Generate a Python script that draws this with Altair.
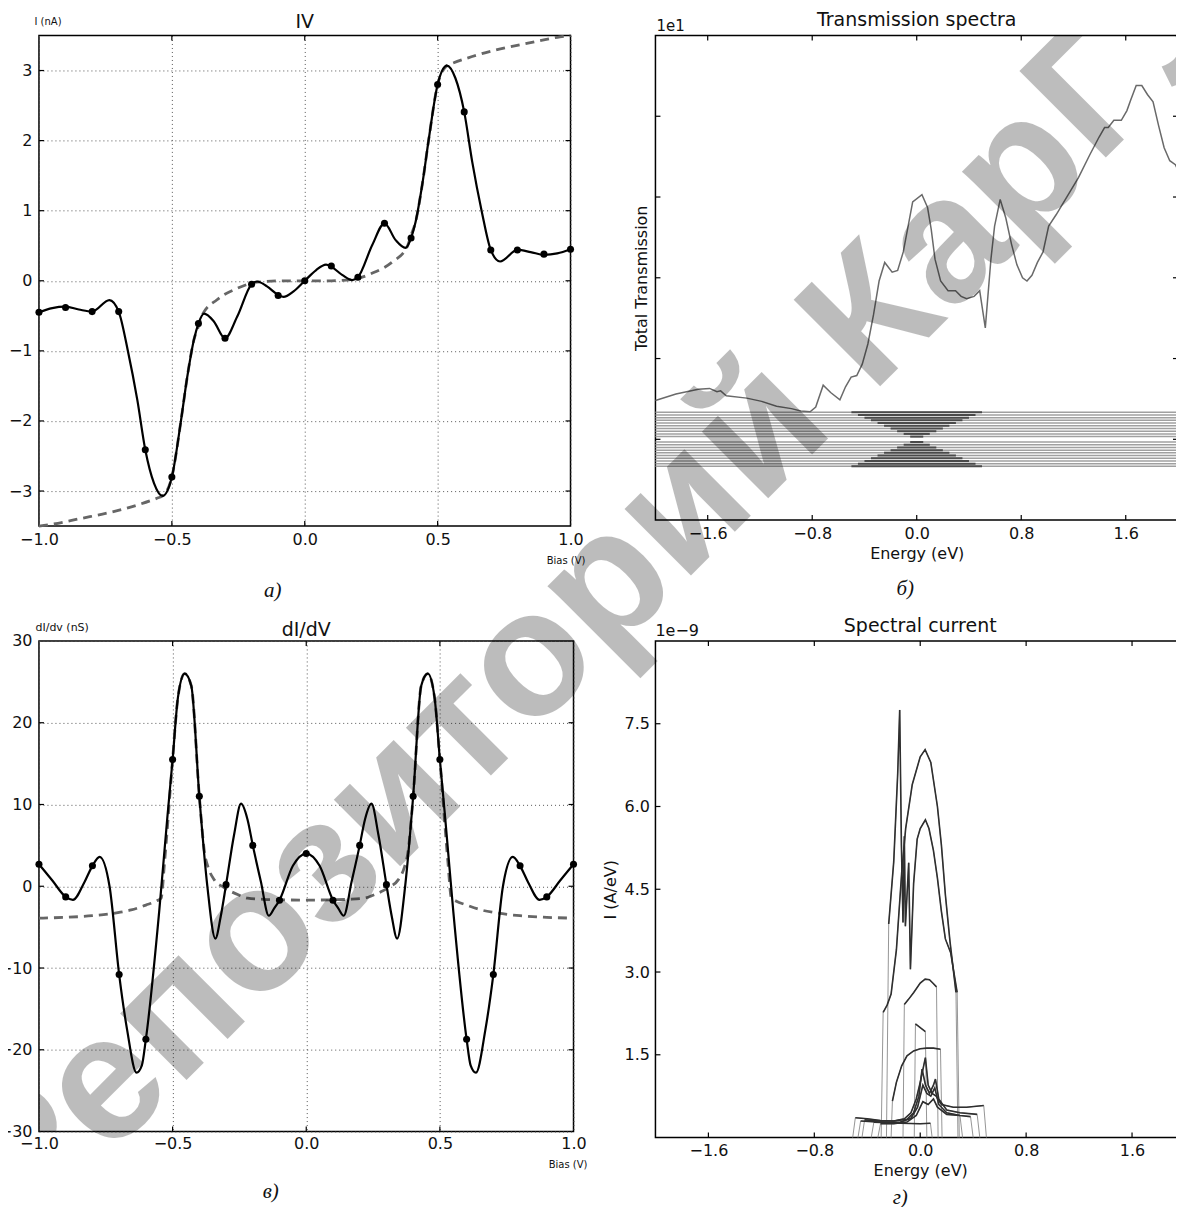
import altair as alt
import pandas as pd

FONT = "DejaVu Sans"
SERIF = "Liberation Serif"
WM_FONT = "Liberation Sans"

# ---------------- (а) IV ----------------
iv_dot_bias = [-1.0, -0.9, -0.8, -0.7, -0.6, -0.5, -0.4, -0.3, -0.2, -0.1, 0.0,
               0.1, 0.2, 0.3, 0.4, 0.5, 0.6, 0.7, 0.8, 0.9, 1.0]
iv_dot_current = [-0.45, -0.38, -0.44, -0.44, -2.41, -2.80, -0.61, -0.82, -0.05, -0.21, 0.0,
                  0.21, 0.05, 0.82, 0.61, 2.80, 2.41, 0.44, 0.44, 0.38, 0.45]
iv_curve_bias = [-1.0, -0.95, -0.9, -0.85, -0.8, -0.735, -0.7, -0.666, -0.63, -0.6, -0.567, -0.535,
                 -0.5, -0.467, -0.442, -0.417, -0.4, -0.379, -0.342, -0.3, -0.254, -0.2, -0.179,
                 -0.142, -0.1, -0.08, -0.042, 0.0,
                 0.042, 0.08, 0.1, 0.142, 0.179, 0.2, 0.254, 0.3, 0.342, 0.379, 0.4, 0.417, 0.442,
                 0.467, 0.5, 0.535, 0.567, 0.6, 0.63, 0.666, 0.7, 0.735, 0.8, 0.85, 0.9, 0.95, 1.0]
iv_curve_current = [-0.45, -0.39, -0.37, -0.41, -0.44, -0.275, -0.44, -0.99, -1.70, -2.41, -2.89, -3.07,
                    -2.80, -2.03, -1.37, -0.84, -0.61, -0.47, -0.58, -0.82, -0.51, -0.05, -0.01,
                    -0.08, -0.20, -0.23, -0.15, 0.0,
                    0.15, 0.23, 0.20, 0.08, 0.01, 0.05, 0.51, 0.82, 0.58, 0.47, 0.61, 0.84, 1.37,
                    2.03, 2.80, 3.07, 2.89, 2.41, 1.70, 0.99, 0.44, 0.275, 0.44, 0.41, 0.37, 0.39, 0.45]
iv_model_bias = [-1.0, -0.96, -0.84, -0.716, -0.63, -0.554, -0.535, -0.5, -0.467, -0.442, -0.417, -0.4,
                 -0.386, -0.33, -0.255, -0.18, -0.08, 0.0, 0.08, 0.18, 0.255, 0.33, 0.386, 0.4, 0.417,
                 0.442, 0.467, 0.5, 0.535, 0.554, 0.63, 0.716, 0.84, 0.96, 1.0]
iv_model_current = [-3.50, -3.48, -3.39, -3.29, -3.20, -3.10, -3.07, -2.80, -2.03, -1.37, -0.84, -0.65,
                    -0.49, -0.27, -0.11, -0.02, 0.0, 0.0, 0.0, 0.02, 0.11, 0.27, 0.49, 0.65, 0.84,
                    1.37, 2.03, 2.80, 3.07, 3.10, 3.20, 3.29, 3.39, 3.48, 3.50]

# ---------------- (б) Transmission spectra ----------------
tr_energy = [-2.0, -1.843, -1.672, -1.586, -1.529, -1.501, -1.458, -1.301, -1.187, -1.073, -0.959, -0.887,
             -0.816, -0.773, -0.716, -0.659, -0.588, -0.545, -0.502, -0.459, -0.417, -0.374, -0.331,
             -0.288, -0.245, -0.188, -0.146, -0.103, -0.060, -0.031, 0.040, 0.083, 0.111, 0.140, 0.183,
             0.240, 0.297, 0.340, 0.382, 0.439, 0.482, 0.525, 0.568, 0.596, 0.639, 0.682, 0.725, 0.767,
             0.810, 0.844, 0.882, 0.924, 0.967, 1.010, 1.067, 1.153, 1.238, 1.324, 1.395, 1.438, 1.466,
             1.509, 1.566, 1.609, 1.638, 1.680, 1.723, 1.766, 1.809, 1.852, 1.894, 1.937, 1.980, 2.0]
tr_value = [1.48, 1.56, 1.62, 1.63, 1.59, 1.60, 1.54, 1.51, 1.47, 1.41, 1.38, 1.35,
            1.34, 1.40, 1.67, 1.58, 1.49, 1.65, 1.77, 1.79, 1.93, 2.18, 2.54,
            2.96, 3.19, 3.07, 3.09, 3.32, 3.69, 3.94, 4.03, 3.87, 3.60, 3.23, 2.96,
            2.84, 2.84, 2.77, 2.74, 2.77, 2.84, 2.38, 3.23, 3.64, 3.97, 3.74, 3.42, 3.16,
            3.00, 2.96, 3.03, 3.19, 3.32, 3.64, 3.78, 4.01, 4.24, 4.52, 4.74, 4.86, 4.86,
            4.95, 4.95, 5.07, 5.20, 5.38, 5.38, 5.27, 5.18, 4.88, 4.61, 4.45, 4.40, 4.33]
band_level = [1.335, 1.3015, 1.268, 1.2345, 1.201, 1.1675, 1.134, 1.1005, 1.067, 1.0335, 1.0,
              0.9665, 0.933, 0.8995, 0.866, 0.8325, 0.799, 0.7655, 0.732, 0.6985, 0.665]
band_window = [0.5, 0.45, 0.4, 0.35, 0.3, 0.25, 0.2, 0.15, 0.1, 0.05, 0.0,
               0.05, 0.1, 0.15, 0.2, 0.25, 0.3, 0.35, 0.4, 0.45, 0.5]

# ---------------- (в) dI/dV ----------------
didv_dot_bias = [-1.0, -0.9, -0.8, -0.7, -0.6, -0.5, -0.4, -0.3, -0.2, -0.1, 0.0,
                 0.1, 0.2, 0.3, 0.4, 0.5, 0.6, 0.7, 0.8, 0.9, 1.0]
didv_dot_value = [2.7, -1.3, 2.5, -10.8, -18.7, 15.5, 11.0, 0.2, 5.0, -1.7, 4.0,
                  -1.7, 5.0, 0.2, 11.0, 15.5, -18.7, -10.8, 2.5, -1.3, 2.7]
didv_curve_bias = [-1.0, -0.95, -0.9, -0.873, -0.83, -0.8, -0.773, -0.736, -0.7, -0.67, -0.635, -0.615,
                   -0.6, -0.55, -0.52, -0.5, -0.48, -0.455, -0.43, -0.4, -0.37, -0.34, -0.32, -0.3,
                   -0.27, -0.244, -0.22, -0.2, -0.17, -0.14, -0.12, -0.1, -0.05, 0.0,
                   0.05, 0.1, 0.12, 0.14, 0.17, 0.2, 0.22, 0.244, 0.27, 0.3, 0.32, 0.34, 0.37, 0.4,
                   0.43, 0.455, 0.48, 0.5, 0.52, 0.55, 0.6, 0.615, 0.635, 0.67, 0.7, 0.736, 0.773,
                   0.8, 0.83, 0.873, 0.9, 0.95, 1.0]
didv_curve_value = [2.7, 0.7, -1.3, -1.66, 0.5, 2.5, 3.6, 0.0, -10.8, -17.6, -22.8, -21.9,
                    -18.7, -3.0, 8.3, 15.5, 23.1, 26.0, 24.5, 11.0, 0.0, -6.4, -3.7, 0.2,
                    6.3, 10.1, 8.2, 5.0, 0.6, -3.6, -2.7, -1.7, 2.5, 4.0,
                    2.5, -1.7, -2.7, -3.6, 0.6, 5.0, 8.2, 10.1, 6.3, 0.2, -3.7, -6.4, 0.0, 11.0,
                    24.5, 26.0, 23.1, 15.5, 8.3, -3.0, -18.7, -21.9, -22.8, -17.6, -10.8, 0.0, 3.6,
                    2.5, 0.5, -1.66, -1.3, 0.7, 2.7]
didv_model_bias = [-1.0, -0.9, -0.8, -0.7, -0.655, -0.6, -0.56, -0.543, -0.53, -0.5, -0.48, -0.455,
                   -0.43, -0.4, -0.38, -0.368, -0.344, -0.31, -0.281, -0.25, -0.219, -0.16, -0.1, 0.0,
                   0.1, 0.16, 0.219, 0.25, 0.281, 0.31, 0.344, 0.368, 0.38, 0.4, 0.43, 0.455, 0.48,
                   0.5, 0.53, 0.543, 0.56, 0.6, 0.655, 0.7, 0.8, 0.9, 1.0]
didv_model_value = [-3.9, -3.8, -3.6, -3.2, -2.9, -2.3, -1.8, -1.45, 3.0, 15.5, 23.1, 26.0,
                    24.5, 11.0, 4.0, 2.4, 0.78, -0.1, -0.65, -1.1, -1.45, -1.6, -1.65, -1.7,
                    -1.65, -1.6, -1.45, -1.1, -0.65, -0.1, 0.78, 2.4, 4.0, 11.0, 24.5, 26.0, 23.1,
                    15.5, 3.0, -1.45, -1.8, -2.3, -2.9, -3.2, -3.6, -3.8, -3.9]

# ---------------- (г) Spectral current (units of 1e-9 A/eV) ----------------
sc1_energy = [-0.238, -0.2, -0.17, -0.155, -0.142, -0.13, -0.12, -0.112, -0.087, -0.074, -0.05, -0.023,
              0.0, 0.039, 0.066, 0.1, 0.13, 0.16, 0.19, 0.23, 0.279]
sc1_current = [3.87, 5.0, 6.6, 7.75, 5.3, 3.9, 5.46, 3.83, 4.98, 3.05, 4.6, 5.41,
               5.6, 5.76, 5.6, 5.2, 4.7, 4.1, 3.6, 3.35, 2.63]
sc2_energy = [-0.28, -0.25, -0.22, -0.18, -0.14, -0.11, -0.06, 0.0, 0.037, 0.08, 0.13, 0.16, 0.19,
              0.225, 0.27]
sc2_current = [2.27, 2.4, 2.6, 3.4, 4.8, 5.6, 6.4, 6.9, 7.03, 6.8, 6.0, 5.3, 4.4, 3.55, 2.63]
sc3_energy = [-0.12, -0.09, -0.049, 0.0, 0.037, 0.07, 0.095, 0.123]
sc3_current = [2.41, 2.5, 2.63, 2.8, 2.87, 2.86, 2.8, 2.73]
sc4_energy = [-0.036, 0.039]
sc4_current = [2.06, 1.92]
sc5_energy = [-0.21, -0.18, -0.14, -0.1, -0.05, 0.0, 0.05, 0.1, 0.153]
sc5_current = [0.66, 1.0, 1.3, 1.48, 1.57, 1.61, 1.62, 1.62, 1.6]
sc6_energy = [-0.49, -0.4, -0.3, -0.2, -0.12, -0.07, -0.03, 0.0, 0.039, 0.06, 0.09, 0.12, 0.16, 0.25,
              0.35, 0.48]
sc6_current = [0.36, 0.34, 0.31, 0.3, 0.34, 0.45, 0.7, 1.0, 1.45, 0.95, 0.8, 0.75, 0.6, 0.55, 0.55, 0.58]
sc7_energy = [-0.42, -0.3, -0.2, -0.1, -0.05, -0.01, 0.014, 0.04, 0.07, 0.1, 0.115, 0.14, 0.2, 0.3, 0.43]
sc7_current = [0.32, 0.3, 0.3, 0.33, 0.45, 0.75, 1.24, 0.95, 0.8, 0.95, 1.06, 0.7, 0.5, 0.45, 0.42]
sc8_energy = [-0.35, -0.25, -0.15, -0.07, -0.02, 0.02, 0.05, 0.08, 0.11, 0.14, 0.2, 0.3, 0.38]
sc8_current = [0.28, 0.27, 0.28, 0.35, 0.55, 0.95, 0.8, 0.75, 0.9, 0.6, 0.45, 0.4, 0.38]
sc9_energy = [-0.3, -0.2, -0.1, -0.03, 0.02, 0.06, 0.1, 0.13, 0.2, 0.3]
sc9_current = [0.25, 0.25, 0.28, 0.4, 0.65, 0.6, 0.7, 0.55, 0.42, 0.4]
sc10_energy = [-0.45, -0.3, -0.15, 0.0, 0.077]
sc10_current = [0.3, 0.28, 0.26, 0.25, 0.26]
sc_base_left = [-0.255, -0.295, -0.13, -0.045, -0.22, -0.51, -0.44, -0.37, -0.32, -0.47]
sc_base_right = [0.295, 0.285, 0.135, 0.05, 0.165, 0.50, 0.45, 0.40, 0.32, 0.09]

# ---------------- watermark text pieces (offsets in em along the baseline) ----------------
wm_pieces = ["Р", "епозиторий Кар", "ГУ"]
wm_piece_offset_em = [0.0, 0.667, 8.513]
wm_piece_clipped = [True, False, True]

# ---------------- layout (flow grid, flush bounds) ----------------
W_A, H_A = 532, 491
W_B, H_B = 523, 485
W_C, H_C = 535, 491
W_D, H_D = 530, 497
COL_GAP, ROW_GAP = 82, 115
ORIGIN_A = (38, 35)
ORIGIN_B = (38 + W_A + COL_GAP, 35)
ORIGIN_C = (38, 35 + H_A + ROW_GAP)
ORIGIN_D = (38 + W_C + COL_GAP, 35 + H_B + ROW_GAP)
WM_START = (23, 1237)
WM_SIZE = 178
WM_DIR = (0.7071, -0.7071)
TICK_LEN = 5


def axis(**kw):
    base = dict(labelFont=FONT, labelFontSize=16, labelColor="#111", tickSize=0, domain=False,
                labelFlush=False, labelOverlap=False, titleFont=FONT, titleFontWeight="normal",
                titleColor="#111", grid=False)
    base.update(kw)
    return alt.Axis(**base)


GRID = dict(grid=True, gridColor="#555", gridDash=[1, 3], gridWidth=1)


def inner_ticks(sx, sy, ax, ay, xvals, yvals, W, H):
    xt = pd.DataFrame({"v": xvals})
    yt = pd.DataFrame({"v": yvals})
    out = []
    for y0, y1 in ((H, H - TICK_LEN), (0, TICK_LEN)):
        out.append(alt.Chart(xt).mark_rule(color="black", strokeWidth=1.2).encode(
            x=alt.X("v:Q", scale=sx, axis=ax), y=alt.value(y0), y2=alt.value(y1)))
    for x0, x1 in ((0, TICK_LEN), (W, W - TICK_LEN)):
        out.append(alt.Chart(yt).mark_rule(color="black", strokeWidth=1.2).encode(
            y=alt.Y("v:Q", scale=sy, axis=ay), x=alt.value(x0), x2=alt.value(x1)))
    return out


def text_layer(txt, x, y, size, font=FONT, align="left", baseline="middle", style="normal",
               angle=0, color="#111", opacity=1.0, clip=False, weight="normal"):
    return alt.Chart(pd.DataFrame({"t": [txt]})).mark_text(
        align=align, baseline=baseline, font=font, fontSize=size, fontStyle=style,
        fontWeight=weight, angle=angle, color=color, opacity=opacity, clip=clip
    ).encode(text="t:N", x=alt.value(x), y=alt.value(y))


def watermark_piece(i, origin):
    d = wm_piece_offset_em[i] * WM_SIZE
    px = WM_START[0] + d * WM_DIR[0]
    py = WM_START[1] + d * WM_DIR[1]
    return text_layer(wm_pieces[i], px - origin[0], py - origin[1], WM_SIZE, font=WM_FONT,
                      baseline="alphabetic", angle=315, color="black", opacity=0.26,
                      clip=wm_piece_clipped[i], weight="bold")


def caption(txt, x, y):
    return text_layer(txt, x, y, 21, font=SERIF, align="center", style="italic")


def title_text(txt, W, y):
    return text_layer(txt, W / 2, y, 19, align="center")


# ---------------- panel а ----------------
sx_a = alt.Scale(domain=[-1, 1], nice=False, zero=False)
sy_a = alt.Scale(domain=[-3.5, 3.5], nice=False, zero=False)
ax_a = axis(values=[-1, -0.5, 0, 0.5, 1], format=".1f", labelPadding=5, title="Bias (V)",
            titleFontSize=10, titleX=527, titleY=34, titleAlign="center", titleBaseline="middle",
            **GRID)
ay_a = axis(values=[-3, -2, -1, 0, 1, 2, 3], format="d", labelPadding=7, title="I (nA)",
            titleFontSize=10, titleAngle=0, titleX=-5, titleY=-14, titleAlign="left",
            titleBaseline="middle", **GRID)
xa = alt.X("bias:Q", scale=sx_a, axis=ax_a)
ya = alt.Y("current:Q", scale=sy_a, axis=ay_a)

iv_model_df = pd.DataFrame({"bias": iv_model_bias, "current": iv_model_current})
iv_curve_df = pd.DataFrame({"bias": iv_curve_bias, "current": iv_curve_current})
iv_dot_df = pd.DataFrame({"bias": iv_dot_bias, "current": iv_dot_current})

panel_a = alt.layer(
    alt.Chart(iv_model_df).mark_line(color="#666", strokeWidth=2.8, strokeDash=[9, 6],
                                     interpolate="monotone").encode(x=xa, y=ya),
    alt.Chart(iv_curve_df).mark_line(color="black", strokeWidth=2.2,
                                     interpolate="monotone").encode(x=xa, y=ya),
    alt.Chart(iv_dot_df).mark_circle(color="black", size=50, opacity=1).encode(x=xa, y=ya),
    *inner_ticks(sx_a, sy_a, ax_a, ay_a, [-0.5, 0, 0.5], [-3, -2, -1, 0, 1, 2, 3], W_A, H_A),
    title_text("IV", W_A, -13),
    caption("а)", 234, 556),
).properties(width=W_A, height=H_A)

# ---------------- panel б ----------------
sx_b = alt.Scale(domain=[-2, 2], nice=False, zero=False)
sy_b = alt.Scale(domain=[0, 6], nice=False, zero=False)
ax_b = axis(values=[-1.6, -0.8, 0, 0.8, 1.6], format=".1f", labelPadding=5, title="Energy (eV)",
            titleFontSize=16, titlePadding=4)
ay_b = axis(values=[1, 2, 3, 4, 5], labels=False, title="Total Transmission", titleFontSize=16,
            titlePadding=5)
xb = alt.X("energy:Q", scale=sx_b, axis=ax_b)
yb = alt.Y("trans:Q", scale=sy_b, axis=ay_b)

tr_df = pd.DataFrame({"energy": tr_energy, "trans": tr_value})
band_full_df = pd.DataFrame({"lvl": [l for l, w in zip(band_level, band_window) if w > 0],
                             "x0": -2.0, "x1": 2.0})
band_win_df = pd.DataFrame({"lvl": [l for l, w in zip(band_level, band_window) if w > 0],
                            "x0": [-w for w in band_window if w > 0],
                            "x1": [w for w in band_window if w > 0]})

panel_b = alt.layer(
    alt.Chart(band_full_df).mark_rule(color="#a0a0a0", strokeWidth=1.5).encode(
        x=alt.X("x0:Q", scale=sx_b, axis=ax_b), x2="x1:Q",
        y=alt.Y("lvl:Q", scale=sy_b, axis=ay_b)),
    alt.Chart(band_win_df).mark_rule(color="#4a4a4a", strokeWidth=2.0).encode(
        x=alt.X("x0:Q", scale=sx_b, axis=ax_b), x2="x1:Q",
        y=alt.Y("lvl:Q", scale=sy_b, axis=ay_b)),
    alt.Chart(tr_df).mark_line(color="#6a6a6a", strokeWidth=1.5).encode(x=xb, y=yb),
    *inner_ticks(sx_b, sy_b, ax_b, ay_b, [-1.6, -0.8, 0, 0.8, 1.6], [1, 2, 3, 4, 5], W_B, H_B),
    title_text("Transmission spectra", W_B, -15),
    text_layer("1e1", 1, -9, 15),
    caption("б)", 250, 554),
    watermark_piece(2, ORIGIN_B),
).properties(width=W_B, height=H_B)

# ---------------- panel в ----------------
sx_c = alt.Scale(domain=[-1, 1], nice=False, zero=False)
sy_c = alt.Scale(domain=[-30, 30], nice=False, zero=False)
ax_c = axis(values=[-1, -0.5, 0, 0.5, 1], format=".1f", labelPadding=4, title="Bias (V)",
            titleFontSize=10, titleX=529, titleY=33, titleAlign="center", titleBaseline="middle",
            **GRID)
ay_c = axis(values=[-30, -20, -10, 0, 10, 20, 30], format="d", labelPadding=7, title="dI/dv (nS)",
            titleFontSize=11, titleAngle=0, titleX=-4, titleY=-13, titleAlign="left",
            titleBaseline="middle", **GRID)
xc = alt.X("bias:Q", scale=sx_c, axis=ax_c)
yc = alt.Y("didv:Q", scale=sy_c, axis=ay_c)

didv_model_df = pd.DataFrame({"bias": didv_model_bias, "didv": didv_model_value})
didv_curve_df = pd.DataFrame({"bias": didv_curve_bias, "didv": didv_curve_value})
didv_dot_df = pd.DataFrame({"bias": didv_dot_bias, "didv": didv_dot_value})

panel_c = alt.layer(
    alt.Chart(didv_model_df).mark_line(color="#666", strokeWidth=2.8, strokeDash=[9, 6],
                                       interpolate="monotone").encode(x=xc, y=yc),
    alt.Chart(didv_curve_df).mark_line(color="black", strokeWidth=2.2,
                                       interpolate="monotone").encode(x=xc, y=yc),
    alt.Chart(didv_dot_df).mark_circle(color="black", size=50, opacity=1).encode(x=xc, y=yc),
    *inner_ticks(sx_c, sy_c, ax_c, ay_c, [-0.5, 0, 0.5], [-20, -10, 0, 10, 20], W_C, H_C),
    title_text("dI/dV", W_C, -11),
    caption("в)", 232, 552),
    watermark_piece(0, ORIGIN_C),
).properties(width=W_C, height=H_C)

# ---------------- panel г ----------------
sx_d = alt.Scale(domain=[-2, 2], nice=False, zero=False)
sy_d = alt.Scale(domain=[0, 9], nice=False, zero=False)
ax_d = axis(values=[-1.6, -0.8, 0, 0.8, 1.6], format=".1f", labelPadding=5, title="Energy (eV)",
            titleFontSize=16, titlePadding=4)
ay_d = axis(values=[1.5, 3.0, 4.5, 6.0, 7.5], format=".1f", labelPadding=6, title="I (A/eV)",
            titleFontSize=16, titlePadding=6)
xd = alt.X("energy:Q", scale=sx_d, axis=ax_d)
yd = alt.Y("current:Q", scale=sy_d, axis=ay_d)

sc_energy = [sc1_energy, sc2_energy, sc3_energy, sc4_energy, sc5_energy,
             sc6_energy, sc7_energy, sc8_energy, sc9_energy, sc10_energy]
sc_current = [sc1_current, sc2_current, sc3_current, sc4_current, sc5_current,
              sc6_current, sc7_current, sc8_current, sc9_current, sc10_current]
full_rows, curve_rows = [], []
for cid, (es, cs, bl, br) in enumerate(zip(sc_energy, sc_current, sc_base_left, sc_base_right)):
    pts = [(bl, 0.0)] + list(zip(es, cs)) + [(br, 0.0)]
    for k, (e, c) in enumerate(pts):
        full_rows.append({"cid": cid, "ord": k, "energy": e, "current": c})
    for k, (e, c) in enumerate(zip(es, cs)):
        curve_rows.append({"cid": cid, "ord": k, "energy": e, "current": c})
sc_full_df = pd.DataFrame(full_rows)
sc_curve_df = pd.DataFrame(curve_rows)

panel_d = alt.layer(
    alt.Chart(sc_full_df).mark_line(color="#8a8a8a", strokeWidth=1.0, opacity=0.9).encode(
        x=xd, y=yd, detail="cid:N", order="ord:Q"),
    alt.Chart(sc_curve_df).mark_line(color="#2f2f2f", strokeWidth=1.6).encode(
        x=xd, y=yd, detail="cid:N", order="ord:Q"),
    *inner_ticks(sx_d, sy_d, ax_d, ay_d, [-1.6, -0.8, 0, 0.8, 1.6], [1.5, 3.0, 4.5, 6.0, 7.5],
                 W_D, H_D),
    title_text("Spectral current", W_D, -15),
    text_layer("1e\u22129", 0, -10, 16),
    caption("г)", 245, 558),
    watermark_piece(1, ORIGIN_D),
).properties(width=W_D, height=H_D)

chart = alt.concat(
    panel_a, panel_b, panel_c, panel_d,
    columns=2, align="none", bounds="flush", spacing={"row": ROW_GAP, "column": COL_GAP},
).properties(
    padding={"left": -11, "top": 2, "right": -11, "bottom": -3},
    background="white",
).configure_view(stroke="black", strokeWidth=1.5)

chart.save("out.html", embed_options={"renderer": "svg", "actions": False})
